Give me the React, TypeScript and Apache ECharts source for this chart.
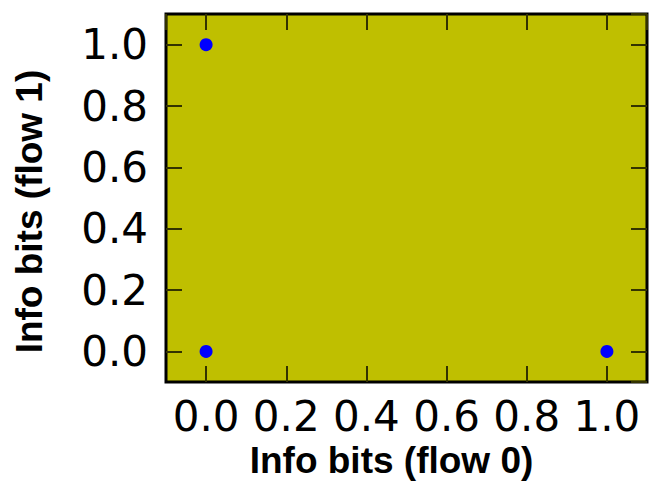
import React, { useEffect, useRef } from "react";
import * as echarts from "echarts";

const points: [number, number][] = [
  [0, 1],
  [0, 0],
  [1, 0],
];
const xName = "Info bits (flow 0)";
const yName = "Info bits (flow 1)";
const axisMin = -0.1;
const axisMax = 1.1;

export default function App() {
  const ref = useRef<HTMLDivElement>(null);
  useEffect(() => {
    if (!ref.current) return;
    const chart = echarts.init(ref.current, null, { renderer: "svg" });
    const fmt = (v: number) => v.toFixed(1);
    const tickStyle = { show: true, inside: true, length: 16, lineStyle: { color: "#333300", width: 2 } };
    const lineStyle = { show: false, onZero: false };
    const labelStyle = {
      fontFamily: "DejaVu Sans",
      fontSize: 42,
      color: "#000",
      showMinLabel: false,
      showMaxLabel: false,
      interval: 0,
      formatter: fmt,
    };
    const nameStyle = {
      fontFamily: "Liberation Sans",
      fontWeight: "bold",
      fontSize: 37,
      color: "#000",
    };
    chart.setOption({
      animation: false,
      backgroundColor: "#fff",
      grid: {
        left: 166,
        top: 14,
        width: 481,
        height: 373,
        show: true,
        backgroundColor: "#bfbf00",
        borderColor: "#000",
        borderWidth: 3,
      },
      xAxis: [
        {
          type: "value",
          min: axisMin,
          max: axisMax,
          splitNumber: 6,
          position: "bottom",
          axisLine: lineStyle,
          axisTick: tickStyle,
          splitLine: { show: false },
          axisLabel: { ...labelStyle, margin: 13 },
          name: xName,
          nameLocation: "middle",
          nameGap: 53,
          nameTextStyle: { ...nameStyle, padding: [0, 30, 0, 0] },
        },
        {
          type: "value",
          min: axisMin,
          max: axisMax,
          splitNumber: 6,
          position: "top",
          axisLine: lineStyle,
          axisTick: tickStyle,
          splitLine: { show: false },
          axisLabel: { show: false },
        },
      ],
      yAxis: [
        {
          type: "value",
          min: axisMin,
          max: axisMax,
          splitNumber: 6,
          position: "left",
          axisLine: lineStyle,
          axisTick: tickStyle,
          splitLine: { show: false },
          axisLabel: { ...labelStyle, margin: 18 },
          name: yName,
          nameLocation: "middle",
          nameGap: 118,
          nameTextStyle: { ...nameStyle, padding: [0, 27, 0, 0] },
        },
        {
          type: "value",
          min: axisMin,
          max: axisMax,
          splitNumber: 6,
          position: "right",
          axisLine: lineStyle,
          axisTick: tickStyle,
          splitLine: { show: false },
          axisLabel: { show: false },
        },
      ],
      series: [
        {
          type: "scatter",
          xAxisIndex: 0,
          yAxisIndex: 0,
          data: points,
          symbol: "circle",
          symbolSize: 13,
          itemStyle: { color: "#0000ff", opacity: 1 },
        },
      ],
    });
    return () => chart.dispose();
  }, []);
  return (
    <div
      ref={ref}
      style={{ position: "fixed", left: 0, top: 0, width: 649, height: 484 }}
    />
  );
}
